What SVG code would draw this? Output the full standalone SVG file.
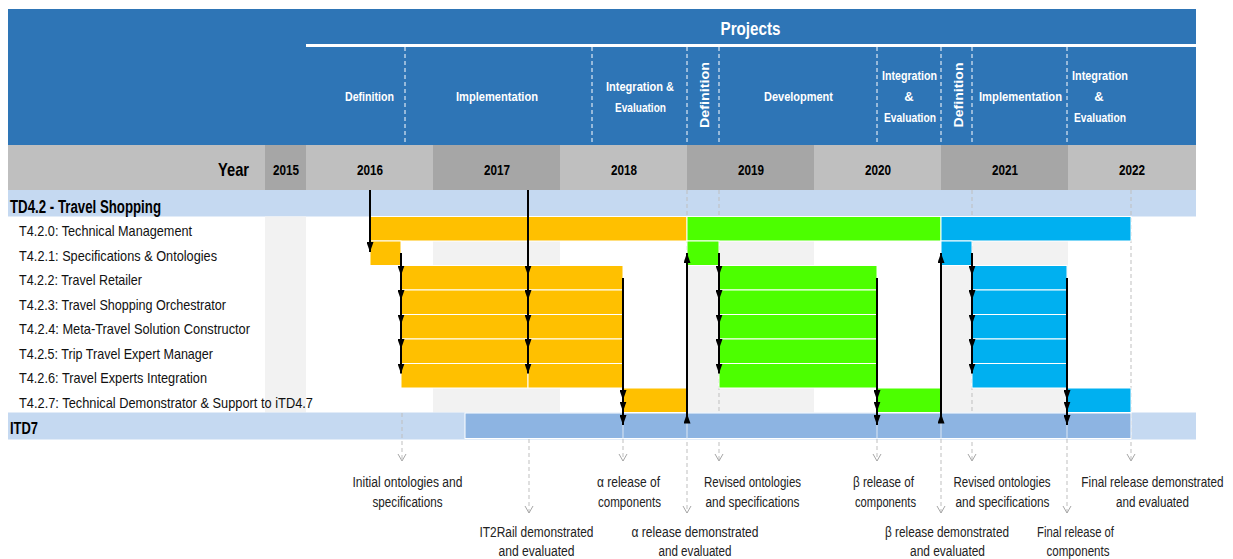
<svg xmlns="http://www.w3.org/2000/svg" width="1233" height="559" viewBox="0 0 1233 559">
<style>
text{font-family:"Liberation Sans Narrow","Liberation Sans",Arial,sans-serif}
.hb{font-weight:bold;fill:#fff;font-size:13px;text-anchor:middle}
.yr{font-weight:bold;font-size:14px;fill:#000;text-anchor:middle}
.task{font-size:14.5px;fill:#111}
.ms{font-size:14px;fill:#222;text-anchor:middle}
.hd{stroke:#fff;stroke-width:1;stroke-dasharray:4 3}
.gd{stroke:#bfbfbf;stroke-width:1;stroke-dasharray:4 3;fill:none}
.ar{stroke:#000;stroke-width:2;fill:none;marker-mid:url(#ah);marker-end:url(#ah)}
.y{fill:#ffc000;stroke:#fff;stroke-width:1}
.g{fill:#4cff00;stroke:#fff;stroke-width:1}
.b{fill:#00b0f0;stroke:#fff;stroke-width:1}
.lg{fill:#f2f2f2}
.sep{stroke:#dce6f2;stroke-width:1}
</style>
<defs>
<marker id="ah" viewBox="0 0 10 7" refX="10" refY="3.5" markerWidth="10" markerHeight="7" markerUnits="userSpaceOnUse" orient="auto">
<path d="M0,0 L10,3.5 L0,7 z" fill="#000"/>
</marker>
<marker id="cv" viewBox="0 0 7 8" refX="7" refY="4" markerWidth="7" markerHeight="8" markerUnits="userSpaceOnUse" orient="auto" overflow="visible">
<path d="M0,0 L7,4 L0,8" fill="none" stroke="#a6a6a6" stroke-width="1" stroke-dasharray="none"/>
</marker>
</defs>
<rect width="1233" height="559" fill="#fff"/>

<g id="header">
<rect x="8" y="9" width="1188" height="136" fill="#2e75b6"/>
<rect x="306" y="44" width="890" height="3" fill="#fff"/>
<text x="750.5" y="35" font-size="18.5" font-weight="bold" fill="#fff" text-anchor="middle" textLength="60" lengthAdjust="spacingAndGlyphs">Projects</text>
<line class="hd" x1="405" y1="47" x2="405" y2="145"/>
<line class="hd" x1="592" y1="47" x2="592" y2="145"/>
<line class="hd" x1="687" y1="47" x2="687" y2="145"/>
<line class="hd" x1="719" y1="47" x2="719" y2="145"/>
<line class="hd" x1="877" y1="47" x2="877" y2="145"/>
<line class="hd" x1="941" y1="47" x2="941" y2="145"/>
<line class="hd" x1="972" y1="47" x2="972" y2="145"/>
<line class="hd" x1="1067" y1="47" x2="1067" y2="145"/>
<text class="hb" x="369.5" y="101" textLength="49" lengthAdjust="spacingAndGlyphs">Definition</text>
<text class="hb" x="497" y="101" textLength="82" lengthAdjust="spacingAndGlyphs">Implementation</text>
<text class="hb" x="640" y="91" textLength="68" lengthAdjust="spacingAndGlyphs">Integration &amp;</text>
<text class="hb" x="640.5" y="112" textLength="51" lengthAdjust="spacingAndGlyphs">Evaluation</text>
<text class="hb" transform="translate(708.5,95) rotate(-90)" x="0" y="0" textLength="66" lengthAdjust="spacingAndGlyphs">Definition</text>
<text class="hb" x="798.5" y="101" textLength="69" lengthAdjust="spacingAndGlyphs">Development</text>
<text class="hb" x="909.5" y="80" textLength="55" lengthAdjust="spacingAndGlyphs">Integration</text>
<text class="hb" x="909" y="101">&amp;</text>
<text class="hb" x="910" y="122" textLength="52" lengthAdjust="spacingAndGlyphs">Evaluation</text>
<text class="hb" transform="translate(962.5,95) rotate(-90)" x="0" y="0" textLength="65" lengthAdjust="spacingAndGlyphs">Definition</text>
<text class="hb" x="1020.5" y="101" textLength="83" lengthAdjust="spacingAndGlyphs">Implementation</text>
<text class="hb" x="1100" y="80" textLength="56" lengthAdjust="spacingAndGlyphs">Integration</text>
<text class="hb" x="1099" y="101">&amp;</text>
<text class="hb" x="1100" y="122" textLength="52" lengthAdjust="spacingAndGlyphs">Evaluation</text>
</g>

<g id="year-row">
<rect x="8" y="145" width="257" height="45" fill="#bfbfbf"/>
<rect x="265" y="145" width="41" height="45" fill="#a6a6a6"/>
<rect x="306" y="145" width="127" height="45" fill="#bfbfbf"/>
<rect x="433" y="145" width="127" height="45" fill="#a6a6a6"/>
<rect x="560" y="145" width="127" height="45" fill="#bfbfbf"/>
<rect x="687" y="145" width="127" height="45" fill="#a6a6a6"/>
<rect x="814" y="145" width="127" height="45" fill="#bfbfbf"/>
<rect x="941" y="145" width="127" height="45" fill="#a6a6a6"/>
<rect x="1068" y="145" width="128" height="45" fill="#bfbfbf"/>
<text x="249" y="176" font-size="18.5" font-weight="bold" fill="#000" text-anchor="end" textLength="31" lengthAdjust="spacingAndGlyphs">Year</text>
<text class="yr" x="286" y="174.5" textLength="26" lengthAdjust="spacingAndGlyphs">2015</text>
<text class="yr" x="370" y="174.5" textLength="26" lengthAdjust="spacingAndGlyphs">2016</text>
<text class="yr" x="497" y="174.5" textLength="26" lengthAdjust="spacingAndGlyphs">2017</text>
<text class="yr" x="624" y="174.5" textLength="26" lengthAdjust="spacingAndGlyphs">2018</text>
<text class="yr" x="751" y="174.5" textLength="26" lengthAdjust="spacingAndGlyphs">2019</text>
<text class="yr" x="878" y="174.5" textLength="26" lengthAdjust="spacingAndGlyphs">2020</text>
<text class="yr" x="1005" y="174.5" textLength="26" lengthAdjust="spacingAndGlyphs">2021</text>
<text class="yr" x="1132" y="174.5" textLength="26" lengthAdjust="spacingAndGlyphs">2022</text>
</g>

<g id="grid-background">
<rect x="8" y="190" width="1188" height="26.5" fill="#c5d9f1"/>
<rect class="lg" x="265" y="216.5" width="41" height="196"/>
<rect class="lg" x="433" y="241" width="127" height="171.5"/>
<rect class="lg" x="687" y="241" width="127" height="171.5"/>
<rect class="lg" x="941" y="241" width="127" height="171.5"/>
<rect x="8" y="412.5" width="1188" height="27" fill="#c5d9f1"/>
</g>

<g id="connectors-dashed">
<line class="gd" x1="402" y1="413" x2="402" y2="461" marker-end="url(#cv)"/>
<line class="gd" x1="529" y1="439" x2="529" y2="513" marker-end="url(#cv)"/>
<line class="gd" x1="623" y1="439" x2="623" y2="461" marker-end="url(#cv)"/>
<line class="gd" x1="687" y1="190" x2="687" y2="513" marker-end="url(#cv)"/>
<line class="gd" x1="719" y1="190" x2="719" y2="461" marker-end="url(#cv)"/>
<line class="gd" x1="877" y1="439" x2="877" y2="461" marker-end="url(#cv)"/>
<line class="gd" x1="941" y1="439" x2="941" y2="513" marker-end="url(#cv)"/>
<line class="gd" x1="972" y1="190" x2="972" y2="461" marker-end="url(#cv)"/>
<line class="gd" x1="1067" y1="439" x2="1067" y2="513" marker-end="url(#cv)"/>
<line class="gd" x1="1131" y1="190" x2="1131" y2="461" marker-end="url(#cv)"/>
</g>

<g id="td42">
<text x="10" y="212.5" font-size="17.5" font-weight="bold" fill="#000" textLength="151" lengthAdjust="spacingAndGlyphs">TD4.2 - Travel Shopping</text>
</g>

<g id="task-labels">
<text class="task" x="19" y="236" textLength="173" lengthAdjust="spacingAndGlyphs">T4.2.0: Technical Management</text>
<text class="task" x="19" y="260.5" textLength="198" lengthAdjust="spacingAndGlyphs">T4.2.1: Specifications &amp; Ontologies</text>
<text class="task" x="19" y="285" textLength="123" lengthAdjust="spacingAndGlyphs">T4.2.2: Travel Retailer</text>
<text class="task" x="19" y="309.5" textLength="207" lengthAdjust="spacingAndGlyphs">T4.2.3: Travel Shopping Orchestrator</text>
<text class="task" x="19" y="334" textLength="231" lengthAdjust="spacingAndGlyphs">T4.2.4: Meta-Travel Solution Constructor</text>
<text class="task" x="19" y="358.5" textLength="194" lengthAdjust="spacingAndGlyphs">T4.2.5: Trip Travel Expert Manager</text>
<text class="task" x="19" y="383" textLength="188" lengthAdjust="spacingAndGlyphs">T4.2.6: Travel Experts Integration</text>
<text class="task" x="19" y="407.5" textLength="294" lengthAdjust="spacingAndGlyphs">T4.2.7: Technical Demonstrator &amp; Support  to iTD4.7</text>
</g>

<g id="bars-2016-2018">
<rect class="y" x="370" y="216.5" width="317" height="24.5"/>
<rect class="y" x="370" y="241" width="31" height="24.5"/>
<rect class="y" x="401" y="265.5" width="127" height="24.5"/>
<rect class="y" x="528" y="265.5" width="95" height="24.5"/>
<rect class="y" x="401" y="290" width="127" height="24.5"/>
<rect class="y" x="528" y="290" width="95" height="24.5"/>
<rect class="y" x="401" y="314.5" width="127" height="24.5"/>
<rect class="y" x="528" y="314.5" width="95" height="24.5"/>
<rect class="y" x="401" y="339" width="127" height="24.5"/>
<rect class="y" x="528" y="339" width="95" height="24.5"/>
<rect class="y" x="401" y="363.5" width="127" height="24.5"/>
<rect class="y" x="528" y="363.5" width="95" height="24.5"/>
<rect class="y" x="623" y="388" width="64" height="24.5"/>
</g>

<g id="bars-2019-2020">
<rect class="g" x="687" y="216.5" width="254" height="24.5"/>
<rect class="g" x="687" y="241" width="32" height="24.5"/>
<rect class="g" x="719" y="265.5" width="158" height="24.5"/>
<rect class="g" x="719" y="290" width="158" height="24.5"/>
<rect class="g" x="719" y="314.5" width="158" height="24.5"/>
<rect class="g" x="719" y="339" width="158" height="24.5"/>
<rect class="g" x="719" y="363.5" width="158" height="24.5"/>
<rect class="g" x="877" y="388" width="64" height="24.5"/>
</g>

<g id="bars-2021-2022">
<rect class="b" x="941" y="216.5" width="190" height="24.5"/>
<rect class="b" x="941" y="241" width="31" height="24.5"/>
<rect class="b" x="972" y="265.5" width="95" height="24.5"/>
<rect class="b" x="972" y="290" width="95" height="24.5"/>
<rect class="b" x="972" y="314.5" width="95" height="24.5"/>
<rect class="b" x="972" y="339" width="95" height="24.5"/>
<rect class="b" x="972" y="363.5" width="95" height="24.5"/>
<rect class="b" x="1067" y="388" width="64" height="24.5"/>
</g>

<g id="itd7">
<rect x="465" y="413" width="666" height="25.5" fill="#8db4e2" stroke="#fff" stroke-width="1"/>
<line class="sep" x1="623" y1="425" x2="623" y2="438.5"/>
<line class="sep" x1="687" y1="423" x2="687" y2="438.5"/>
<line class="sep" x1="877" y1="425" x2="877" y2="438.5"/>
<line class="sep" x1="941" y1="423" x2="941" y2="438.5"/>
<line class="sep" x1="1067" y1="425" x2="1067" y2="438.5"/>
<text x="10" y="434" font-size="16" font-weight="bold" fill="#000" textLength="28" lengthAdjust="spacingAndGlyphs">ITD7</text>
</g>

<g id="connectors">
<polyline class="ar" points="370,190 370,252"/>
<polyline class="ar" points="528,190 528,275.5 528,300 528,324.5 528,349 528,373.5"/>
<polyline class="ar" points="401,253 401,275.5 401,300 401,324.5 401,349 401,373.5"/>
<polyline class="ar" points="623,278 623,400 623,411.5 623,425"/>
<polyline class="ar" points="687,423 687,413.5 687,253"/>
<polyline class="ar" points="719,253 719,275.5 719,300 719,324.5 719,349 719,373.5"/>
<polyline class="ar" points="877,278 877,400 877,411.5 877,425"/>
<polyline class="ar" points="941,423 941,413.5 941,253"/>
<polyline class="ar" points="972,253 972,275.5 972,300 972,324.5 972,349 972,373.5"/>
<polyline class="ar" points="1067,278 1067,400 1067,411.5 1067,425"/>
</g>

<g id="milestones">
<text class="ms" x="407.5" y="487" textLength="110" lengthAdjust="spacingAndGlyphs">Initial ontologies and</text>
<text class="ms" x="407.5" y="507" textLength="70" lengthAdjust="spacingAndGlyphs">specifications</text>
<text class="ms" x="536.5" y="537" textLength="114" lengthAdjust="spacingAndGlyphs">IT2Rail demonstrated</text>
<text class="ms" x="536.5" y="556" textLength="76" lengthAdjust="spacingAndGlyphs">and evaluated</text>
<text class="ms" x="628.5" y="487" textLength="63" lengthAdjust="spacingAndGlyphs">α release of</text>
<text class="ms" x="629.5" y="507" textLength="63" lengthAdjust="spacingAndGlyphs">components</text>
<text class="ms" x="695" y="537" textLength="127" lengthAdjust="spacingAndGlyphs">α release demonstrated</text>
<text class="ms" x="695" y="556" textLength="73" lengthAdjust="spacingAndGlyphs">and evaluated</text>
<text class="ms" x="752.5" y="487" textLength="97" lengthAdjust="spacingAndGlyphs">Revised ontologies</text>
<text class="ms" x="752.5" y="507" textLength="94" lengthAdjust="spacingAndGlyphs">and specifications</text>
<text class="ms" x="883.5" y="487" textLength="61" lengthAdjust="spacingAndGlyphs">β release of</text>
<text class="ms" x="885.5" y="507" textLength="61" lengthAdjust="spacingAndGlyphs">components</text>
<text class="ms" x="947" y="537" textLength="124" lengthAdjust="spacingAndGlyphs">β release demonstrated</text>
<text class="ms" x="947.5" y="556" textLength="75" lengthAdjust="spacingAndGlyphs">and evaluated</text>
<text class="ms" x="1002" y="487" textLength="97" lengthAdjust="spacingAndGlyphs">Revised ontologies</text>
<text class="ms" x="1002.5" y="507" textLength="94" lengthAdjust="spacingAndGlyphs">and specifications</text>
<text class="ms" x="1075.5" y="537" textLength="77" lengthAdjust="spacingAndGlyphs">Final release of</text>
<text class="ms" x="1078" y="556" textLength="63" lengthAdjust="spacingAndGlyphs">components</text>
<text class="ms" transform="translate(1152.5,487) scale(0.84,1)" x="0" y="0">Final release demonstrated</text>
<text class="ms" x="1152.5" y="507" textLength="73" lengthAdjust="spacingAndGlyphs">and evaluated</text>
</g>
</svg>
